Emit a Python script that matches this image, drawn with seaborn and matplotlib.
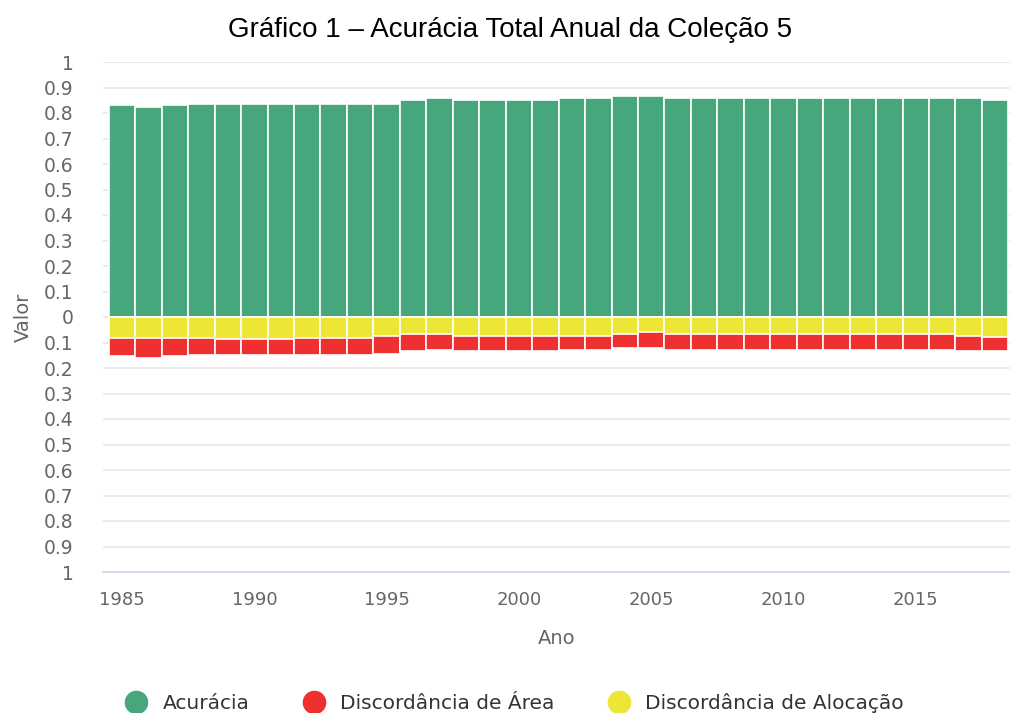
import numpy as np
import pandas as pd
import matplotlib
matplotlib.use('Agg')
import matplotlib.pyplot as plt
from matplotlib.lines import Line2D
from matplotlib.ticker import FuncFormatter, MultipleLocator
import seaborn as sns

# Dados
anos = list(range(1985, 2019))
acuracia = [0.832, 0.824, 0.832, 0.837, 0.837, 0.837, 0.837, 0.837, 0.837, 0.837,
            0.837, 0.852, 0.859, 0.852, 0.852, 0.852, 0.852, 0.859, 0.859, 0.867,
            0.867, 0.859, 0.859, 0.859, 0.859, 0.859, 0.859, 0.859, 0.859, 0.859,
            0.859, 0.859, 0.859, 0.852]
disc_alocacao = [0.083, 0.083, 0.081, 0.081, 0.086, 0.086, 0.086, 0.081, 0.081, 0.081,
                 0.073, 0.068, 0.068, 0.075, 0.075, 0.075, 0.075, 0.076, 0.076, 0.068,
                 0.060, 0.068, 0.068, 0.068, 0.068, 0.068, 0.068, 0.068, 0.068, 0.068,
                 0.068, 0.068, 0.075, 0.078]
disc_area = [0.071, 0.078, 0.073, 0.067, 0.062, 0.062, 0.062, 0.067, 0.067, 0.067,
             0.074, 0.066, 0.060, 0.059, 0.059, 0.059, 0.059, 0.052, 0.052, 0.053,
             0.061, 0.060, 0.060, 0.060, 0.060, 0.060, 0.060, 0.060, 0.060, 0.060,
             0.060, 0.060, 0.059, 0.056]

cor_verde = '#47a67b'
cor_vermelho = '#ef3030'
cor_amarelo = '#ede636'

df = pd.DataFrame({'Ano': anos, 'Acuracia': acuracia,
                   'Alocacao': disc_alocacao, 'Area': disc_area})
df['Negativo_total'] = -(df['Alocacao'] + df['Area'])
df['Negativo_aloc'] = -df['Alocacao']

sns.set_style('white')
plt.rcParams['font.family'] = ['DejaVu Sans']

fig = plt.figure(figsize=(10.10, 7.13), dpi=100)
ax = fig.add_axes([103 / 1010, 1 - 572 / 713, 1 - 103 / 1010, (572 - 62) / 713])

kw = dict(native_scale=True, width=1, edgecolor='white', linewidth=1.2,
          errorbar=None, ax=ax)
sns.barplot(data=df, x='Ano', y='Acuracia', color=cor_verde, saturation=1, **kw)
sns.barplot(data=df, x='Ano', y='Negativo_total', color=cor_vermelho, saturation=1, **kw)
sns.barplot(data=df, x='Ano', y='Negativo_aloc', color=cor_amarelo, saturation=1, **kw)

ax.set_xlim(1984.28, 2018.56)
ax.set_ylim(-1, 1)
ax.yaxis.set_major_locator(MultipleLocator(0.1))
ax.yaxis.set_major_formatter(FuncFormatter(lambda v, p: f'{abs(v):.1f}'.rstrip('0').rstrip('.') if abs(v) > 1e-9 else '0'))
ax.set_xticks(list(range(1985, 2019, 5)))
ax.set_xticklabels([str(a) for a in range(1985, 2019, 5)])

ax.grid(axis='y', color='#e6e6e6', linewidth=1.2)
ax.set_axisbelow(True)
for s in ['top', 'right', 'left']:
    ax.spines[s].set_visible(False)
ax.spines['bottom'].set_color('#ccd6eb')
ax.spines['bottom'].set_linewidth(1.2)
ax.tick_params(axis='y', length=0, labelsize=13.5, labelcolor='#666666', pad=21)
ax.tick_params(axis='x', length=8, width=1.2, color='#ccd6eb', labelsize=13,
               labelcolor='#666666', pad=6)

ax.set_xlabel('Ano', fontsize=14, color='#666666', labelpad=14)
ax.set_ylabel('Valor', fontsize=14, color='#666666', labelpad=8)

fig.text(0.505, 0.958, 'Gráfico 1 – Acurácia Total Anual da Coleção 5',
         ha='center', va='center', fontsize=20, color='black',
         family=['Liberation Sans Narrow', 'Liberation Sans'])

handles = [Line2D([], [], marker='o', linestyle='', markersize=16, color=c)
           for c in [cor_verde, cor_vermelho, cor_amarelo]]
fig.legend(handles, ['Acurácia', 'Discordância de Área', 'Discordância de Alocação'],
           loc='center', bbox_to_anchor=(0.505, 0.014), ncol=3, frameon=False,
           fontsize=14.5, labelcolor='#333333', handletextpad=0.3, columnspacing=2.2)

fig.savefig('out.png', dpi=100)
